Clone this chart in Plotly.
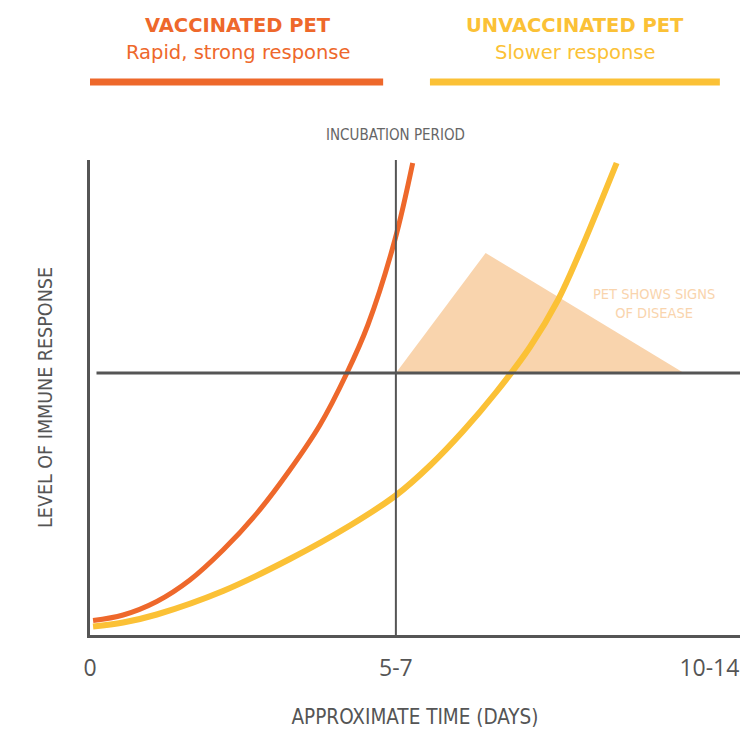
import plotly.graph_objects as go

# values (x in days, y in arbitrary response units)
vacc_x = [0.06, 0.65, 1.31, 1.96, 2.61, 3.27, 3.92, 4.51, 5.03, 5.45, 5.98, 6.33]
vacc_y = [2.9, 4.0, 6.7, 11.0, 17.0, 24.3, 33.0, 42.0, 52.2, 62.0, 79.0, 94.4]

unvacc_x = [0.06, 0.65, 1.31, 2.61, 3.92, 5.10, 6.01, 6.67, 7.32, 7.97, 8.63, 9.18, 9.61, 10.33]
unvacc_y = [1.7, 2.5, 4.1, 8.8, 15.2, 21.9, 28.0, 33.9, 40.8, 48.6, 57.6, 67.0, 76.6, 94.4]

disease_x = [6.0, 7.76, 11.65]
disease_y = [52.4, 76.4, 52.4]

tick_vals = [0, 6, 12.15]
tick_text = ['0', '5-7', '10-14']

incubation_day = 6
threshold = 52.4

ORANGE = '#EE682B'
YELLOW = '#FBC136'
PEACH = '#F9D4AD'
GREY = '#555555'
NARROW = 'DejaVu Sans Condensed, Liberation Sans Narrow, Arial Narrow, sans-serif'
HEAD = 'DejaVu Sans, Open Sans'

fig = go.Figure()

fig.add_trace(go.Scatter(x=disease_x, y=disease_y, fill='toself', fillcolor=PEACH,
                         mode='none', hoverinfo='skip', showlegend=False))

fig.add_vline(x=incubation_day, line=dict(color=GREY, width=2), opacity=1)
fig.add_hline(y=threshold, line=dict(color=GREY, width=3), x0=0.01, opacity=1)

fig.add_trace(go.Scatter(x=unvacc_x, y=unvacc_y, mode='lines', name='Unvaccinated pet',
                         line=dict(color=YELLOW, width=6, shape='spline'),
                         cliponaxis=False, showlegend=False))
fig.add_trace(go.Scatter(x=vacc_x, y=vacc_y, mode='lines', name='Vaccinated pet',
                         line=dict(color=ORANGE, width=5, shape='spline'),
                         cliponaxis=False, showlegend=False))

# header "legend" above the plot
header = [
    (0.227, 'VACCINATED PET', 'Rapid, strong response', ORANGE, 0.0, 0.451),
    (0.746, 'UNVACCINATED PET', 'Slower response', YELLOW, 0.523, 0.969),
]
for cx, title, sub, col, x0, x1 in header:
    fig.add_annotation(x=cx, y=1.283, xref='paper', yref='paper', showarrow=False,
                       xanchor='center', yanchor='middle',
                       text='<b>' + title + '</b>', font=dict(family=HEAD, size=19.5, color=col))
    fig.add_annotation(x=cx, y=1.227, xref='paper', yref='paper', showarrow=False,
                       xanchor='center', yanchor='middle',
                       text=sub, font=dict(family=HEAD, size=19.5, color=col))
    fig.add_shape(type='line', xref='paper', yref='paper', x0=x0, x1=x1, y0=1.164, y1=1.164,
                  line=dict(color=col, width=7), opacity=1)

fig.add_annotation(x=incubation_day, y=1.053, xref='x', yref='paper', showarrow=False,
                   xanchor='center', yanchor='middle',
                   text='INCUBATION PERIOD', font=dict(family=NARROW, size=15, color='#666666'))
fig.add_annotation(x=11.06, y=66.4, showarrow=False, align='center',
                   text='PET SHOWS SIGNS<br>OF DISEASE', font=dict(family=NARROW, size=14.5, color=PEACH))

fig.update_xaxes(range=[0, 12.75], showgrid=False, zeroline=False, showline=True,
                 linecolor=GREY, linewidth=3, ticks='', tickvals=tick_vals, ticktext=tick_text,
                 tickfont=dict(family='Open Sans, Lato', size=23, color=GREY),
                 ticklabelstandoff=10, ticklabeloverflow='allow', automargin=False,
                 title=dict(text='APPROXIMATE TIME (DAYS)', standoff=29,
                            font=dict(family=NARROW, size=20.5, color=GREY)))
fig.update_yaxes(range=[0, 95], showgrid=False, zeroline=False, showline=True,
                 linecolor=GREY, linewidth=3, ticks='', showticklabels=False, automargin=False,
                 title=dict(text='LEVEL OF IMMUNE RESPONSE', standoff=30,
                            font=dict(family=NARROW, size=19.5, color=GREY)))

fig.update_layout(width=741, height=736, template='simple_white',
                  margin=dict(l=90, r=1, t=160, b=101),
                  paper_bgcolor='white', plot_bgcolor='white')

# drop the browser's default page margin so the figure sits at the window's corner
fig.write_html('out.html', config={'displayModeBar': False},
               post_script="document.body.style.margin='0';")
